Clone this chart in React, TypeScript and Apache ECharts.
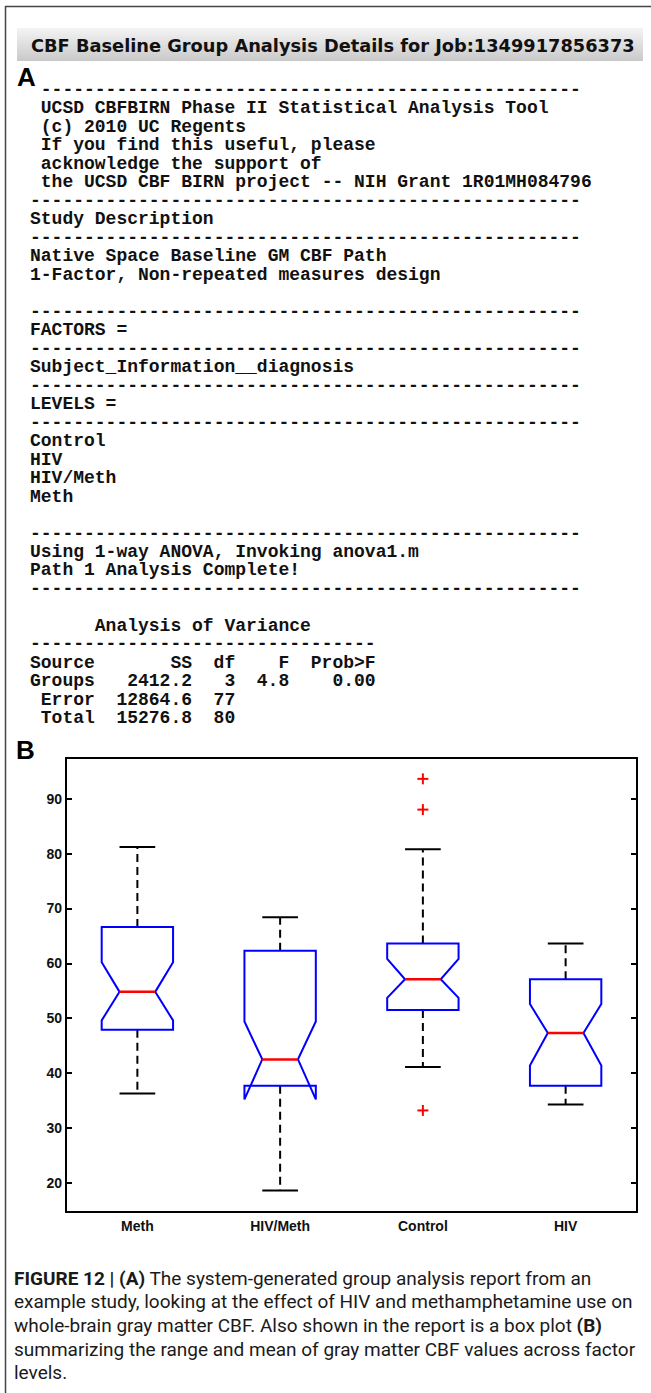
import React, { useEffect, useRef } from 'react';
import * as echarts from 'echarts';

// ---------- Box plot data ----------
const categories = ['Meth', 'HIV/Meth', 'Control', 'HIV'];
const whiskerLow = [36.3, 18.6, 41.1, 34.3];
const quartile1 = [47.9, 37.7, 51.5, 37.7];
const notchLow = [49.6, 35.2, 53.7, 41.4];
const medians = [54.8, 42.5, 57.1, 47.3];
const notchHigh = [60.2, 49.4, 60.8, 52.6];
const quartile3 = [66.6, 62.3, 63.6, 57.1];
const whiskerHigh = [81.2, 68.4, 80.8, 63.6];
const outlierCategory = ['Control', 'Control', 'Control'];
const outlierValues = [93.6, 88.0, 33.2];
const yTickValues = [20, 30, 40, 50, 60, 70, 80, 90];
const yMin = 14.7;
const yMax = 97.4;

// ---------- Report text ----------
const headerTitle = 'CBF Baseline Group Analysis Details for Job:1349917856373';
const dash51 = '---------------------------------------------------';
const dash32 = '--------------------------------';
const reportLines = [
  ' --------------------------------------------------',
  ' UCSD CBFBIRN Phase II Statistical Analysis Tool',
  ' (c) 2010 UC Regents',
  ' If you find this useful, please',
  ' acknowledge the support of',
  ' the UCSD CBF BIRN project -- NIH Grant 1R01MH084796',
  dash51,
  'Study Description',
  dash51,
  'Native Space Baseline GM CBF Path',
  '1-Factor, Non-repeated measures design',
  '',
  dash51,
  'FACTORS =',
  dash51,
  'Subject_Information__diagnosis',
  dash51,
  'LEVELS =',
  dash51,
  'Control',
  'HIV',
  'HIV/Meth',
  'Meth',
  '',
  dash51,
  'Using 1-way ANOVA, Invoking anova1.m',
  'Path 1 Analysis Complete!',
  dash51,
  '',
  '      Analysis of Variance',
  dash32,
  'Source       SS  df    F  Prob>F',
  'Groups   2412.2   3  4.8    0.00',
  ' Error  12864.6  77',
  ' Total  15276.8  80',
];
const captionLines = [
  '{b|FIGURE 12 | (A)} The system-generated group analysis report from an',
  'example study, looking at the effect of HIV and methamphetamine use on',
  'whole-brain gray matter CBF. Also shown in the report is a box plot {b|(B)}',
  'summarizing the range and mean of gray matter CBF values across factor',
  'levels.',
];

const MONO = '"Liberation Mono", "DejaVu Sans Mono", monospace';
const SANS = '"Liberation Sans", Arial, sans-serif';

function buildGraphics(): any[] {
  const els: any[] = [];
  // frame
  els.push({ type: 'line', shape: { x1: 5, y1: 6.5, x2: 651, y2: 6.5 }, style: { stroke: '#444', lineWidth: 1.5 } });
  els.push({ type: 'line', shape: { x1: 5.5, y1: 6, x2: 5.5, y2: 1393 }, style: { stroke: '#444', lineWidth: 1.5 } });
  // header bar
  els.push({
    type: 'rect',
    shape: { x: 17, y: 28, width: 626, height: 33 },
    style: {
      fill: new echarts.graphic.LinearGradient(0, 0, 0, 1, [
        { offset: 0, color: '#f4f4f4' },
        { offset: 1, color: '#c9c9c9' },
      ]),
    },
  });
  els.push({
    type: 'text', x: 31, y: 45,
    style: { text: headerTitle, fontFamily: '"DejaVu Sans", Verdana, sans-serif', fontWeight: 'bold', fontSize: 17.8, fill: '#111', verticalAlign: 'middle', align: 'left' },
  });
  // panel letters
  els.push({ type: 'text', x: 17, y: 77, style: { text: 'A', fontFamily: SANS, fontWeight: 'bold', fontSize: 26, fill: '#000', verticalAlign: 'middle' } });
  els.push({ type: 'text', x: 16, y: 750, style: { text: 'B', fontFamily: SANS, fontWeight: 'bold', fontSize: 26, fill: '#000', verticalAlign: 'middle' } });
  // report (monospaced, placed by column)
  const charW = 10.8;
  reportLines.forEach((line, row) => {
    const y = 90 + row * 18.48;
    const re = /\S+(?: \S+)*/g;
    let m: RegExpExecArray | null;
    while ((m = re.exec(line)) !== null) {
      els.push({
        type: 'text', x: 30 + m.index * charW, y,
        style: { text: m[0], fontFamily: MONO, fontWeight: 'bold', fontSize: 18, fill: '#111', verticalAlign: 'middle', align: 'left' },
      });
    }
  });
  // caption
  captionLines.forEach((line, i) => {
    els.push({
      type: 'text', x: 14, y: 1278 + i * 23.7,
      style: {
        text: line, fontFamily: 'Roboto, sans-serif', fontSize: 19, fill: '#1a1a1a', verticalAlign: 'middle', align: 'left',
        rich: { b: { fontFamily: 'Roboto, sans-serif', fontSize: 19, fontWeight: 'bold', fill: '#1a1a1a' } },
      },
    });
  });
  return els;
}

export default function App() {
  const ref = useRef<HTMLDivElement>(null);
  useEffect(() => {
    if (!ref.current) return;
    const chart = echarts.init(ref.current, null, { renderer: 'svg' });
    const boxData = categories.map((_, i) => [
      i, whiskerLow[i], quartile1[i], notchLow[i], medians[i], notchHigh[i], quartile3[i], whiskerHigh[i],
    ]);
    const outlierData = outlierValues.map((v, i) => [categories.indexOf(outlierCategory[i]), v]);

    const axisLineStyle = { color: '#000', width: 2 };
    const option: any = {
      animation: false,
      backgroundColor: '#fff',
      grid: { left: 66, top: 758, width: 571, height: 454, containLabel: false },
      xAxis: [
        {
          type: 'category', data: categories, position: 'bottom',
          axisLine: { lineStyle: axisLineStyle },
          axisTick: { inside: true, alignWithLabel: true, length: 6, lineStyle: axisLineStyle },
          axisLabel: { color: '#111', fontFamily: SANS, fontWeight: 'bold', fontSize: 14, margin: 7 },
          splitLine: { show: false },
        },
        {
          type: 'category', data: categories, position: 'top',
          axisLine: { lineStyle: axisLineStyle },
          axisTick: { inside: true, alignWithLabel: true, length: 6, lineStyle: axisLineStyle },
          axisLabel: { show: false },
          splitLine: { show: false },
        },
      ],
      yAxis: [
        {
          type: 'value', min: yMin, max: yMax, position: 'left',
          axisLine: { show: true, lineStyle: axisLineStyle },
          axisTick: { show: true, inside: true, length: 6, lineStyle: axisLineStyle, customValues: yTickValues },
          axisLabel: { color: '#111', fontFamily: SANS, fontWeight: 'bold', fontSize: 14, margin: 4, customValues: yTickValues },
          splitLine: { show: false },
        },
        {
          type: 'value', min: yMin, max: yMax, position: 'right',
          axisLine: { show: true, lineStyle: axisLineStyle },
          axisTick: { show: true, inside: true, length: 6, lineStyle: axisLineStyle, customValues: yTickValues },
          axisLabel: { show: false, customValues: yTickValues },
          splitLine: { show: false },
        },
      ],
      series: [
        {
          type: 'custom',
          xAxisIndex: 0, yAxisIndex: 0,
          data: boxData,
          encode: { x: 0, y: [1, 2, 3, 4, 5, 6, 7] },
          renderItem: (params: any, api: any) => {
            const idx = api.value(0);
            const wlo = api.value(1), q1 = api.value(2), nlo = api.value(3), med = api.value(4);
            const nhi = api.value(5), q3 = api.value(6), whi = api.value(7);
            const cx = api.coord([idx, med])[0];
            const band = api.size([1, 0])[0];
            const half = band * 0.25;
            const nh = half / 2;
            const Y = (v: number) => api.coord([idx, v])[1];
            const L = cx - half, R = cx + half;
            const dash = { stroke: '#000', lineWidth: 2, lineDash: [8, 5] };
            const solid = { stroke: '#000', lineWidth: 2 };
            return {
              type: 'group',
              children: [
                { type: 'line', shape: { x1: cx, y1: Y(q3), x2: cx, y2: Y(whi) }, style: dash },
                { type: 'line', shape: { x1: cx, y1: Y(q1), x2: cx, y2: Y(wlo) }, style: dash },
                { type: 'line', shape: { x1: cx - nh, y1: Y(whi), x2: cx + nh, y2: Y(whi) }, style: solid },
                { type: 'line', shape: { x1: cx - nh, y1: Y(wlo), x2: cx + nh, y2: Y(wlo) }, style: solid },
                {
                  type: 'polygon',
                  shape: {
                    points: [
                      [L, Y(q1)], [L, Y(nlo)], [cx - nh, Y(med)], [L, Y(nhi)], [L, Y(q3)],
                      [R, Y(q3)], [R, Y(nhi)], [cx + nh, Y(med)], [R, Y(nlo)], [R, Y(q1)],
                    ],
                  },
                  style: { fill: 'none', stroke: '#0000ff', lineWidth: 2 },
                },
                { type: 'line', shape: { x1: cx - nh, y1: Y(med), x2: cx + nh, y2: Y(med) }, style: { stroke: '#ff0000', lineWidth: 2.5 } },
              ],
            };
          },
        },
        {
          type: 'custom',
          xAxisIndex: 0, yAxisIndex: 0,
          data: outlierData,
          encode: { x: 0, y: 1 },
          renderItem: (params: any, api: any) => {
            const p = api.coord([api.value(0), api.value(1)]);
            const s = 5.5;
            const st = { stroke: '#ff0000', lineWidth: 2 };
            return {
              type: 'group',
              children: [
                { type: 'line', shape: { x1: p[0] - s, y1: p[1], x2: p[0] + s, y2: p[1] }, style: st },
                { type: 'line', shape: { x1: p[0], y1: p[1] - s, x2: p[0], y2: p[1] + s }, style: st },
              ],
            };
          },
        },
      ],
      graphic: buildGraphics(),
    };
    chart.setOption(option);
    return () => chart.dispose();
  }, []);
  return (
    <div
      ref={ref}
      style={{ position: 'absolute', left: 0, top: 0, width: 651, height: 1393, background: '#fff' }}
    />
  );
}
